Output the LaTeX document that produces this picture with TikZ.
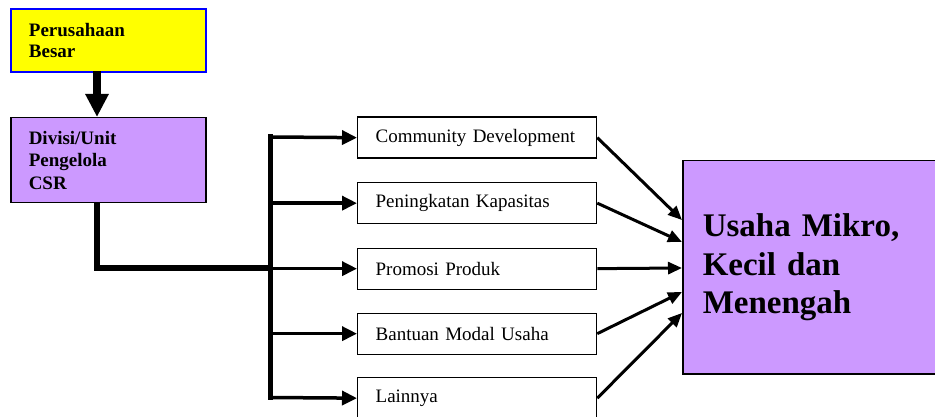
\documentclass[tikz,border=0pt]{standalone}
\usepackage{fontspec}
\setmainfont{Liberation Serif}
\usetikzlibrary{arrows.meta,calc}
\definecolor{boxyellow}{RGB}{255,255,0}
\definecolor{boxblue}{RGB}{0,0,255}
\definecolor{boxpurple}{RGB}{204,153,255}
\begin{document}
\begin{tikzpicture}[x=1pt,y=-1pt,
  topbox/.style={draw=boxblue, fill=boxyellow, line width=1.8pt, anchor=north west,
    align=left, inner xsep=18pt, inner ysep=0pt, text width=159pt, minimum height=63pt,
    font=\fontsize{19}{21}\selectfont\bfseries},
  divbox/.style={draw=black, fill=boxpurple, line width=1.5pt, anchor=north west,
    align=left, inner xsep=18pt, inner ysep=0pt, text width=159pt, minimum height=85pt,
    font=\fontsize{19}{22.5}\selectfont\bfseries},
  midbox/.style={draw=black, fill=white, line width=1.3pt, anchor=north west,
    align=left, inner xsep=18pt, inner ysep=0pt, text width=203pt, minimum height=41pt,
    font=\fontsize{19}{21}\selectfont},
  bigbox/.style={draw=black, fill=boxpurple, line width=1.5pt, anchor=north west,
    align=left, inner xsep=20pt, inner ysep=0pt, text width=213pt, minimum height=213pt,
    font=\fontsize{33}{38.5}\selectfont\bfseries},
  bigarrow/.style={line width=8.5pt, -{Triangle[length=23pt,width=22pt]}},
  thickline/.style={line width=5.5pt, line join=miter},
  busline/.style={line width=5pt, line cap=rect},
  branch/.style={line width=3.5pt, -{Triangle[length=15pt,width=14pt]}},
  feed/.style={line width=3pt, -{Triangle[length=14pt,width=12pt]}}
]
\useasboundingbox (0,0) rectangle (935,417);

\node[topbox] (pb) at (10,8) {Perusahaan\\Besar};
\node[divbox] (div) at (10,117) {Divisi/Unit\\Pengelola\\CSR};

\node[midbox] (m1) at (357,116.5) {Community Development};
\node[midbox] (m2) at (357,182) {Peningkatan Kapasitas};
\node[midbox] (m3) at (357,247.5) {Promosi Produk};
\node[midbox] (m4) at (357,312.5) {Bantuan Modal Usaha};
\node[midbox] (m5) at (357,377) {Lainnya};

\node[bigbox] (umkm) at (682,160) {Usaha Mikro,\\Kecil dan\\Menengah};

% coordinates
\coordinate (pbout) at (97,71);
\coordinate (divin) at (97,117);
\coordinate (divout) at (97,202);
\coordinate (bj) at (270,268);
\coordinate (bt) at (270,137);
\coordinate (bb) at (270,397.5);

\draw[bigarrow] (pbout) -- (divin);
\draw[thickline] (divout) |- (bj);
\draw[busline] (bt) -- (bb);

\draw[branch] (bt) -- (m1.west);
\draw[branch] (m2.west -| bt) -- (m2.west);
\draw[branch] (m3.west -| bt) -- (m3.west);
\draw[branch] (m4.west -| bt) -- (m4.west);
\draw[branch] (bb) -- (m5.west);

\draw[feed] (m1.east) -- (umkm.west |- 0,220);
\draw[feed] (m2.east) -- (umkm.west |- 0,242);
\draw[feed] (m3.east) -- (umkm.west |- 0,268);
\draw[feed] (m4.east) -- (umkm.west |- 0,292);
\draw[feed] (m5.east) -- (umkm.west |- 0,313);
\end{tikzpicture}
\end{document}
